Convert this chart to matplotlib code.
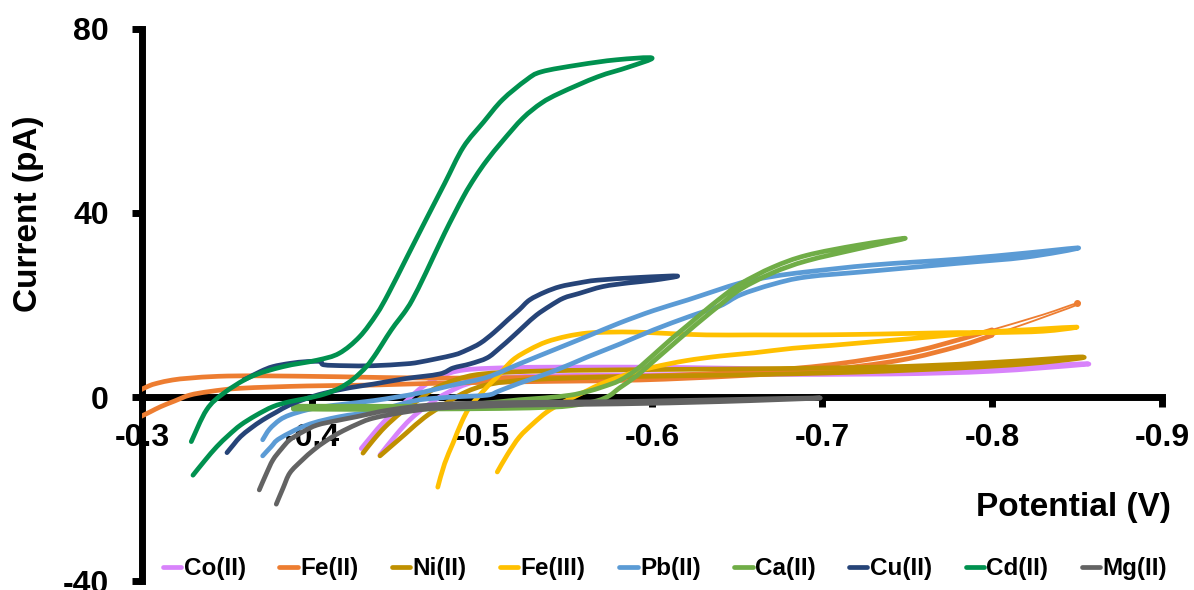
import numpy as np
import matplotlib.pyplot as plt
from matplotlib.path import Path
from matplotlib.patches import PathPatch
from matplotlib.lines import Line2D

plt.rcParams['font.family'] = ['Liberation Sans', 'DejaVu Sans']
plt.rcParams['font.weight'] = 'bold'
plt.rcParams['axes.unicode_minus'] = False

# potential (V) / current (pA) for each ion, forward scan then return scan
co_v = [-0.429, -0.435, -0.442, -0.450, -0.458, -0.465, -0.475, -0.490, -0.520, -0.560, -0.620,
        -0.680, -0.730, -0.780, -0.820, -0.852,
        -0.852, -0.800, -0.740, -0.660, -0.580, -0.520, -0.495, -0.480, -0.468, -0.458, -0.450, -0.440]
co_i = [-11.2, -8.5, -5.5, -2.8, 0.0, 2.2, 4.4, 5.9, 6.4, 6.5, 6.4,
        6.0, 5.6, 6.0, 6.6, 7.2,
        7.0, 5.6, 5.0, 4.9, 4.8, 4.4, 3.2, 1.0, -1.8, -4.8, -8.0, -12.6]

fe2_v = [-0.299, -0.304, -0.309, -0.318, -0.328, -0.345, -0.370, -0.416, -0.475, -0.540, -0.600,
         -0.650, -0.700, -0.750, -0.780, -0.800, -0.830, -0.850,
         -0.845, -0.800, -0.780, -0.746, -0.700, -0.650, -0.593, -0.540, -0.475, -0.436, -0.397,
         -0.358, -0.340, -0.328, -0.319, -0.311, -0.305, -0.299]
fe2_i = [1.5, 2.4, 3.0, 3.7, 4.1, 4.5, 4.6, 4.4, 4.1, 4.3, 4.6,
         5.4, 6.8, 9.6, 12.4, 14.6, 17.9, 20.4,
         19.3, 13.4, 11.0, 8.0, 5.8, 4.6, 3.7, 3.4, 3.0, 2.6, 2.4,
         1.9, 1.2, 0.4, -0.9, -2.1, -3.2, -4.3]

ni_v = [-0.430, -0.436, -0.443, -0.452, -0.462, -0.472, -0.485, -0.500, -0.530, -0.580, -0.650,
        -0.720, -0.760, -0.800, -0.830, -0.851,
        -0.851, -0.820, -0.780, -0.720, -0.650, -0.580, -0.530, -0.505, -0.490, -0.477, -0.466,
        -0.455, -0.440]
ni_i = [-12.2, -9.4, -6.5, -3.5, -0.8, 1.8, 3.8, 5.0, 5.6, 5.9, 6.1,
        6.4, 6.8, 7.5, 8.2, 8.7,
        8.4, 7.2, 6.3, 5.4, 4.8, 4.4, 3.8, 2.8, 1.0, -1.8, -4.5,
        -8.0, -12.8]

fe3_v = [-0.509, -0.515, -0.522, -0.530, -0.538, -0.546, -0.554, -0.562, -0.571, -0.586, -0.601,
         -0.620, -0.640, -0.660, -0.683, -0.705, -0.730, -0.756, -0.780, -0.800, -0.825, -0.850,
         -0.830, -0.800, -0.780, -0.750, -0.720, -0.691, -0.660, -0.632, -0.610, -0.591, -0.575,
         -0.562, -0.550, -0.538, -0.528, -0.518, -0.509, -0.503, -0.493, -0.488, -0.483, -0.478,
         -0.474]
fe3_i = [-16.3, -12.5, -8.7, -5.8, -3.3, -1.5, 0.0, 1.4, 3.0, 5.0, 6.5,
         7.9, 8.9, 9.6, 10.6, 11.2, 12.0, 12.8, 13.6, 14.2, 14.7, 15.2,
         14.3, 14.0, 14.0, 13.8, 13.6, 13.5, 13.5, 13.5, 13.8, 14.1, 14.1,
         13.9, 13.2, 12.0, 10.3, 8.0, 4.4, 2.2, -2.1, -5.5, -10.0, -14.5,
         -19.6]

pb_v = [-0.371, -0.375, -0.381, -0.387, -0.397, -0.407, -0.420, -0.436, -0.450, -0.4635, -0.483,
        -0.503, -0.522, -0.542, -0.562, -0.581, -0.601, -0.621, -0.652, -0.671, -0.691, -0.730,
        -0.781, -0.820, -0.851,
        -0.820, -0.781, -0.730, -0.691, -0.671, -0.652, -0.640, -0.622, -0.601, -0.581, -0.562,
        -0.542, -0.522, -0.510, -0.503, -0.483, -0.4635, -0.450, -0.436, -0.416, -0.397, -0.381,
        -0.376, -0.371]
pb_i = [-9.3, -7.0, -5.0, -3.9, -2.8, -2.1, -1.5, -0.8, 0.0, 0.9, 2.6,
        4.3, 7.2, 10.2, 13.2, 16.1, 18.8, 21.1, 24.8, 26.2, 27.2, 28.7,
        30.0, 31.3, 32.4,
        30.4, 29.1, 27.4, 26.1, 24.5, 22.2, 19.8, 17.5, 14.6, 11.5, 8.7,
        5.6, 3.0, 1.3, 0.4, 0.0, -0.6, -1.8, -3.2, -4.3, -6.1, -9.0,
        -10.8, -12.8]

ca_v = [-0.389, -0.420, -0.460, -0.483, -0.503, -0.522, -0.537, -0.552, -0.562, -0.571, -0.581,
        -0.591, -0.601, -0.611, -0.621, -0.630, -0.640, -0.652, -0.671, -0.691, -0.721, -0.749,
        -0.721, -0.691, -0.671, -0.652, -0.640, -0.630, -0.621, -0.611, -0.601, -0.591, -0.581,
        -0.575, -0.568, -0.556, -0.542, -0.510, -0.470, -0.430, -0.389]
ca_i = [-2.0, -2.0, -2.0, -1.8, -1.3, -0.6, -0.2, 0.4, 1.2, 2.2, 3.6,
        6.0, 9.2, 12.5, 15.6, 18.4, 21.4, 24.6, 28.2, 30.8, 33.0, 34.5,
        32.2, 29.6, 27.0, 23.4, 20.0, 17.0, 14.2, 11.0, 7.8, 4.6, 2.0,
        0.3, -0.8, -1.7, -2.2, -2.5, -2.6, -2.7, -2.6]

cu_v = [-0.360, -0.362, -0.370, -0.377, -0.387, -0.397, -0.405, -0.407, -0.420, -0.436, -0.455,
        -0.4635, -0.483, -0.491, -0.499, -0.507, -0.515, -0.522, -0.528, -0.537, -0.546, -0.557,
        -0.568, -0.593, -0.615,
        -0.601, -0.586, -0.571, -0.557, -0.548, -0.540, -0.532, -0.525, -0.518, -0.510, -0.503,
        -0.493, -0.483, -0.475, -0.455, -0.436, -0.422, -0.407, -0.397, -0.387, -0.379, -0.371,
        -0.364, -0.358, -0.354, -0.350]
cu_i = [3.8, 4.1, 5.6, 6.6, 7.3, 7.7, 7.7, 7.0, 6.8, 6.8, 7.2,
        7.6, 9.1, 10.2, 11.7, 14.0, 16.7, 19.0, 21.1, 22.8, 24.0, 24.8,
        25.4, 26.0, 26.3,
        25.4, 24.8, 24.0, 22.5, 21.5, 19.8, 17.8, 15.5, 13.1, 10.5, 8.5,
        7.2, 6.3, 5.0, 4.0, 2.8, 2.0, 0.8, -0.3, -1.7, -3.3, -5.0,
        -6.8, -8.6, -10.3, -12.1]

cd_v = [-0.330, -0.337, -0.344, -0.351, -0.358, -0.367, -0.377, -0.387, -0.397, -0.407, -0.416,
        -0.424, -0.432, -0.438, -0.444, -0.449, -0.454, -0.459, -0.467, -0.478, -0.489, -0.496,
        -0.503, -0.512, -0.524, -0.535, -0.546, -0.568, -0.586, -0.600,
        -0.579, -0.557, -0.535, -0.526, -0.512, -0.501, -0.489, -0.478, -0.467, -0.456, -0.445,
        -0.438, -0.428, -0.416, -0.403, -0.383, -0.364, -0.348, -0.338, -0.329]
cd_i = [-17.0, -13.8, -10.8, -8.3, -6.1, -4.0, -2.1, -1.0, -0.3, 0.6, 1.9,
        3.8, 6.6, 9.6, 13.1, 15.8, 18.2, 21.1, 27.0, 35.6, 43.5, 47.8,
        51.5, 55.6, 60.6, 63.9, 66.1, 69.6, 71.7, 73.7,
        73.3, 72.2, 70.7, 68.9, 64.6, 59.8, 54.3, 46.4, 38.5, 30.5, 22.5,
        18.0, 13.1, 9.5, 8.0, 6.6, 4.4, 0.8, -2.8, -9.7]

mg_v = [-0.369, -0.373, -0.377, -0.382, -0.387, -0.395, -0.403, -0.415, -0.426, -0.446, -0.475,
        -0.520, -0.580, -0.640, -0.699,
        -0.640, -0.580, -0.520, -0.475, -0.456, -0.436, -0.426, -0.416, -0.408, -0.401, -0.394,
        -0.387, -0.383, -0.379]
mg_i = [-20.2, -16.8, -13.7, -11.3, -9.3, -7.5, -6.1, -5.1, -4.3, -2.8, -1.6,
        -1.2, -1.0, -0.6, -0.2,
        -1.0, -1.5, -1.8, -2.4, -3.2, -4.6, -6.0, -7.8, -9.6, -11.5, -13.8,
        -16.5, -19.8, -23.3]

labels = ['Co(II)', 'Fe(II)', 'Ni(II)', 'Fe(III)', 'Pb(II)', 'Ca(II)', 'Cu(II)', 'Cd(II)', 'Mg(II)']
colors = ['#D883FB', '#ED7D31', '#BF9000', '#FFC000', '#5B9BD5', '#70AD47', '#264478', '#00914F', '#636363']
x_ticks = [-0.3, -0.4, -0.5, -0.6, -0.7, -0.8, -0.9]
y_ticks = [-40, 0, 40, 80]

curves = [(co_v, co_i), (fe2_v, fe2_i), (ni_v, ni_i), (fe3_v, fe3_i), (pb_v, pb_i),
          (ca_v, ca_i), (cu_v, cu_i), (cd_v, cd_i), (mg_v, mg_i)]

LW = 3.4


def smooth_path(v, i):
    # smoothed scatter line: cubic Bezier segments through every point (Catmull-Rom tangents)
    p = np.column_stack([v, i])
    n = len(p)
    verts = [p[0]]
    codes = [Path.MOVETO]
    for k in range(n - 1):
        p0 = p[k - 1] if k > 0 else p[k]
        p3 = p[k + 2] if k + 2 < n else p[k + 1]
        verts += [p[k] + (p[k + 1] - p0) / 6, p[k + 1] - (p3 - p[k]) / 6, p[k + 1]]
        codes += [Path.CURVE4] * 3
    return Path(verts, codes)


def draw_curve(ax, v, i, col, lw):
    patch = PathPatch(smooth_path(v, i), fill=False, edgecolor=col, lw=lw,
                      capstyle='round', joinstyle='round', zorder=3)
    ax.add_patch(patch)


fig = plt.figure(figsize=(11.94, 5.90), dpi=100)
ax = fig.add_axes([0.1189, 0.01525, 0.8543, 0.9356])

handles = []
for (v, i), lab, col in zip(curves, labels, colors):
    v = np.array(v)
    i = np.array(i)
    if lab == 'Fe(II)':
        # far end of the Fe(II) scan: thin line with a dot at the turning point
        draw_curve(ax, v, i, col, 1.3)
        k = np.argmin(v)
        ax.plot(v[k], i[k], 'o', color=col, ms=4, zorder=3)
        keep = v >= -0.80
        idx = np.where(keep)[0]
        runs = np.split(idx, np.where(np.diff(idx) > 1)[0] + 1)
        for r in runs:
            draw_curve(ax, v[r], i[r], col, LW)
    else:
        draw_curve(ax, v, i, col, LW)
    handles.append(Line2D([], [], color=col, lw=LW, solid_capstyle='round'))

ax.set_xlim(-0.3, -0.9)
ax.set_ylim(-40, 80)
ax.set_xticks(x_ticks)
ax.set_xticklabels([f'{t:.1f}' for t in x_ticks])
ax.set_yticks(y_ticks)

for s in ['top', 'right']:
    ax.spines[s].set_visible(False)
ax.spines['bottom'].set_position(('data', 0))
ax.spines['bottom'].set_linewidth(5)
ax.spines['left'].set_linewidth(5)
ax.patch.set_alpha(0)

ax.tick_params(axis='x', direction='out', length=7, width=5, pad=12, labelsize=23)
ax.tick_params(axis='y', direction='out', length=7, width=5, pad=17, labelsize=23)
for t in ax.get_xticklabels() + ax.get_yticklabels():
    t.set_fontweight('bold')

fig.text(0.8987, 0.139, 'Potential (V)', ha='center', va='center', fontsize=24, fontweight='bold')
fig.text(0.0235, 0.637, 'Current (pA)', ha='center', va='center', rotation=90,
         fontsize=24, fontweight='bold')

fig.legend(handles, labels, loc='center', bbox_to_anchor=(0.557, 0.036), ncol=9,
           frameon=False, prop={'weight': 'bold', 'size': 17.5}, handlelength=0.75,
           handletextpad=0.1, columnspacing=1.38, borderaxespad=0)

fig.savefig('out.png', dpi=100)
